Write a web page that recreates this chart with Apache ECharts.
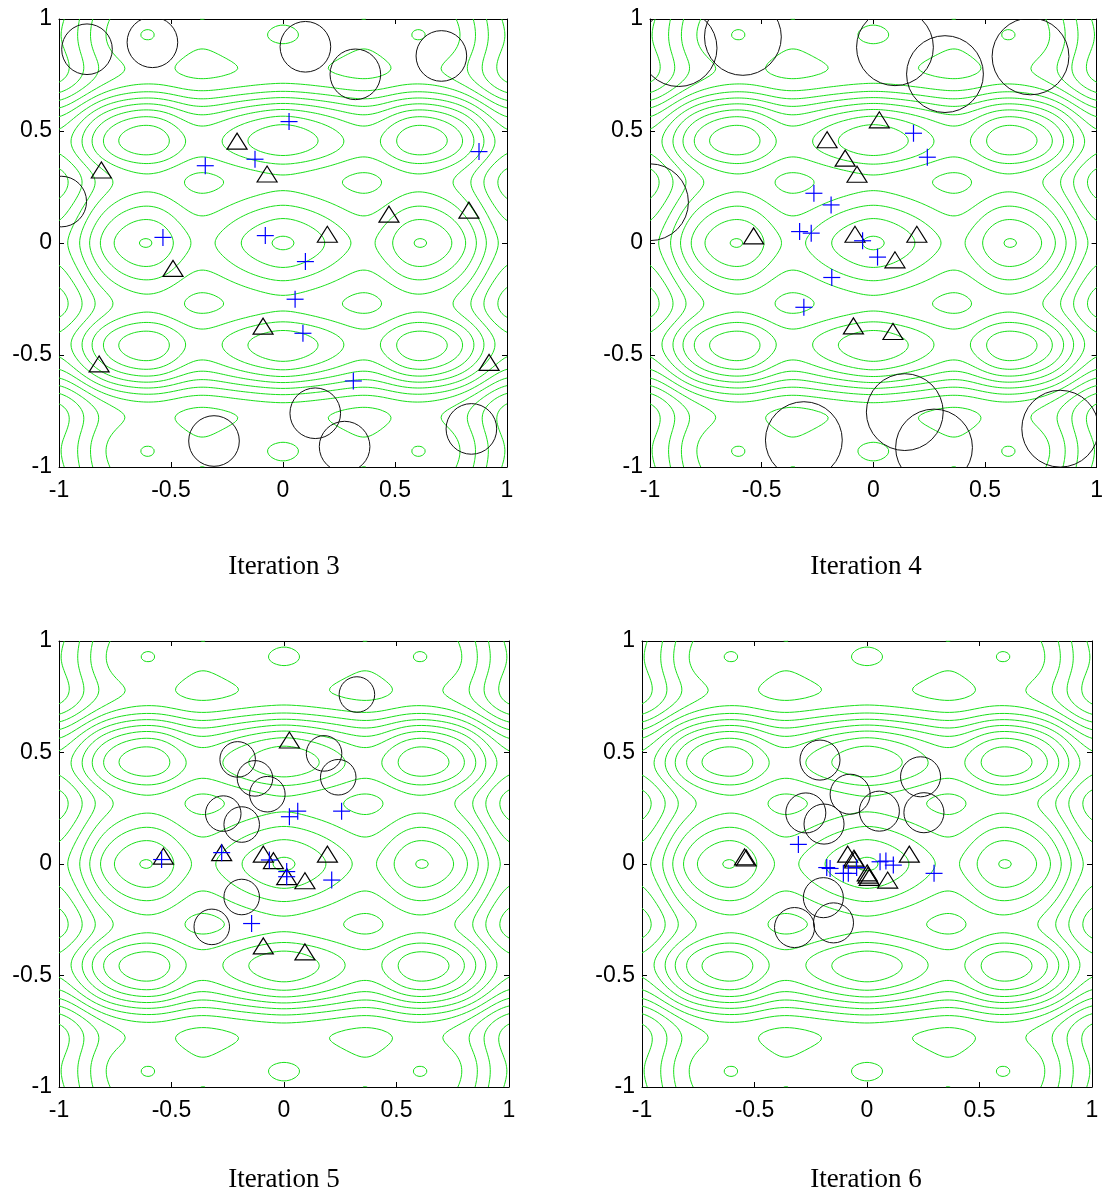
<!DOCTYPE html>
<html><head><meta charset="utf-8">
<script src="https://cdn.jsdelivr.net/npm/echarts@6/dist/echarts.min.js"></script>
<style>html,body{margin:0;padding:0;background:#fff}#c{width:1106px;height:1204px}</style>
</head><body><div id="c"></div>
<script>
// ---------------- data ----------------
const iterationTitles = ['Iteration 3', 'Iteration 4', 'Iteration 5', 'Iteration 6'];
const tickValues = [-1, -0.5, 0, 0.5, 1];

// circles: [x, y, radius]
const it3Circles = [[-0.875,0.865,0.113],[-0.583,0.896,0.113],[0.100,0.876,0.113],[0.323,0.753,0.113],[0.707,0.835,0.113],[-0.99,0.185,0.113],[-0.308,-0.884,0.113],[0.144,-0.760,0.113],[0.275,-0.909,0.113],[0.841,-0.830,0.113]];
const it4Circles = [[-0.872,0.870,0.172],[-0.584,0.920,0.172],[0.097,0.874,0.172],[0.321,0.754,0.172],[0.704,0.833,0.172],[-1.0,0.182,0.172],[-0.311,-0.880,0.172],[0.141,-0.755,0.172],[0.272,-0.913,0.172],[0.837,-0.829,0.172]];
const it5Circles = [[0.324,0.760,0.079],[-0.206,0.469,0.079],[-0.129,0.384,0.079],[-0.074,0.313,0.079],[0.178,0.496,0.079],[0.241,0.389,0.079],[-0.270,0.226,0.079],[-0.188,0.177,0.079],[-0.188,-0.148,0.079],[-0.321,-0.282,0.079]];
const it6Circles = [[-0.209,0.466,0.089],[-0.075,0.313,0.089],[0.238,0.391,0.089],[-0.272,0.229,0.089],[-0.191,0.179,0.089],[0.055,0.237,0.089],[0.253,0.230,0.089],[-0.194,-0.151,0.089],[-0.322,-0.285,0.089],[-0.149,-0.264,0.089]];

// triangles: [x, y]
const it3Triangles = [[-0.205,0.455],[-0.811,0.326],[-0.071,0.308],[0.473,0.129],[0.830,0.147],[0.198,0.039],[-0.491,-0.113],[-0.089,-0.371],[-0.821,-0.540],[0.920,-0.533]];
const it4Triangles = [[0.027,0.550],[-0.207,0.461],[-0.126,0.379],[-0.073,0.307],[-0.536,0.032],[-0.082,0.039],[0.195,0.039],[0.097,-0.075],[-0.089,-0.370],[0.088,-0.395]];
const it5Triangles = [[0.024,0.556],[-0.536,0.035],[-0.277,0.051],[-0.092,0.044],[-0.047,0.015],[0.193,0.044],[0.012,-0.057],[0.093,-0.075],[-0.092,-0.367],[0.093,-0.394]];
const it6Triangles = [[-0.544,0.032],[-0.537,0.027],[-0.086,0.044],[-0.058,0.026],[-0.055,0.018],[0.001,-0.040],[0.005,-0.050],[0.010,-0.060],[0.188,0.044],[0.092,-0.072]];

// plus markers: [x, y]
const it3Plus = [[0.027,0.542],[-0.347,0.345],[-0.125,0.374],[0.875,0.408],[-0.536,0.025],[-0.079,0.033],[0.100,-0.083],[0.054,-0.251],[0.089,-0.403],[0.314,-0.616]];
const it4Plus = [[0.180,0.490],[0.242,0.383],[-0.266,0.222],[-0.189,0.170],[-0.330,0.051],[-0.278,0.044],[-0.048,0.010],[0.019,-0.063],[-0.186,-0.154],[-0.311,-0.287]];
const it5Plus = [[0.061,0.237],[0.024,0.212],[0.256,0.237],[-0.544,0.020],[-0.277,0.051],[-0.065,0.018],[0.012,-0.034],[0.012,-0.057],[0.212,-0.072],[-0.144,-0.267]];
const it6Plus = [[-0.305,0.088],[-0.179,-0.016],[-0.164,-0.020],[-0.105,-0.042],[-0.083,-0.042],[-0.046,-0.016],[0.058,0.010],[0.084,0.013],[0.117,-0.005],[0.298,-0.042]];

// background landscape, estimated from the contour picture
const landscapePeriod = [0.62, 0.47];        // spacing of the oval rows/columns in x and y
const landscapeShift = [0.0533, 0.037];      // pushes the small in-between ovals outwards (to x≈0.36, y≈0.27)
const landscapeMix = [1.0, 1.6, 0.4];        // weight of x wave, y wave, cross term
const landscapeEdgeX = [4.8, 0.90, 0.07];    // fall-off towards |x| = 1: drop, position, width
const landscapeBandY = [6.73, 0.65, 0.06];   // fall-off band near |y| = 0.65: drop, position, width
const landscapeDamp = [0.6, 0.70, 0.06];     // ripple damping above the band
const contourLevels = [-12.75,-11.55,-10.35,-9.15,-7.95,-6.75,-5.55,-4.35,-3.15,-1.95,-0.75,0.45,1.65,2.85];

// ---------------- contour computation (marching squares) ----------------
const sig = (t) => 1 / (1 + Math.exp(-t));
function phase(t, period, shift) {
  const k = 2 * Math.PI / period, a = Math.abs(t);
  return Math.sign(t) * k * (a - shift * (1 - Math.cos(k * a)) / 2);
}
function field(x, y) {
  const u = phase(x, landscapePeriod[0], landscapeShift[0]);
  const v = phase(y, landscapePeriod[1], landscapeShift[1]);
  const ripple = landscapeMix[0] * Math.cos(u) + landscapeMix[1] * Math.cos(v) + landscapeMix[2] * Math.cos(u) * Math.cos(v);
  const damp = 1 - landscapeDamp[0] * sig((Math.abs(y) - landscapeDamp[1]) / landscapeDamp[2]);
  return damp * ripple
    - landscapeEdgeX[0] * sig((Math.abs(x) - landscapeEdgeX[1]) / landscapeEdgeX[2])
    - landscapeBandY[0] * sig((Math.abs(y) - landscapeBandY[1]) / landscapeBandY[2]);
}
const N = 181;
const gx = [], gy = [];
for (let i = 0; i < N; i++) { gx.push(-1 + 2 * i / (N - 1)); gy.push(-1 + 2 * i / (N - 1)); }
const G = gy.map(y => gx.map(x => field(x, y)));

function contour(level) {
  const pts = {}, segs = [], adj = {};
  function ep(id, x0, y0, v0, x1, y1, v1) {
    if (!(id in pts)) { const t = (level - v0) / (v1 - v0); pts[id] = [x0 + t * (x1 - x0), y0 + t * (y1 - y0)]; }
    return id;
  }
  for (let j = 0; j < N - 1; j++) {
    for (let i = 0; i < N - 1; i++) {
      const a = G[j][i], b = G[j][i + 1], c = G[j + 1][i + 1], d = G[j + 1][i];
      const k = (a > level ? 1 : 0) | (b > level ? 2 : 0) | (c > level ? 4 : 0) | (d > level ? 8 : 0);
      if (k === 0 || k === 15) continue;
      const x0 = gx[i], x1 = gx[i + 1], y0 = gy[j], y1 = gy[j + 1];
      const B = () => ep('h' + i + '_' + j, x0, y0, a, x1, y0, b);
      const R = () => ep('v' + (i + 1) + '_' + j, x1, y0, b, x1, y1, c);
      const T = () => ep('h' + i + '_' + (j + 1), x0, y1, d, x1, y1, c);
      const L = () => ep('v' + i + '_' + j, x0, y0, a, x0, y1, d);
      const ctr = (a + b + c + d) / 4 > level;
      let s = [];
      switch (k) {
        case 1: case 14: s = [[L(), B()]]; break;
        case 2: case 13: s = [[B(), R()]]; break;
        case 3: case 12: s = [[L(), R()]]; break;
        case 4: case 11: s = [[R(), T()]]; break;
        case 6: case 9: s = [[B(), T()]]; break;
        case 7: case 8: s = [[L(), T()]]; break;
        case 5: s = ctr ? [[B(), R()], [L(), T()]] : [[L(), B()], [R(), T()]]; break;
        case 10: s = ctr ? [[L(), B()], [R(), T()]] : [[B(), R()], [L(), T()]]; break;
      }
      for (const sg of s) {
        const idx = segs.length; segs.push(sg);
        (adj[sg[0]] = adj[sg[0]] || []).push(idx);
        (adj[sg[1]] = adj[sg[1]] || []).push(idx);
      }
    }
  }
  const used = new Array(segs.length).fill(false), lines = [];
  function walk(start, chain) {
    let cur = start;
    while (true) {
      const nx = (adj[cur] || []).find(q => !used[q]);
      if (nx === undefined) break;
      used[nx] = true;
      const sg = segs[nx]; cur = sg[0] === cur ? sg[1] : sg[0];
      chain.push(cur);
    }
  }
  for (let s = 0; s < segs.length; s++) {
    if (used[s]) continue;
    used[s] = true;
    const fwd = [segs[s][1]]; walk(segs[s][1], fwd);
    const back = [segs[s][0]]; walk(segs[s][0], back);
    const ids = back.reverse().concat(fwd);
    lines.push({ coords: ids.map(id => pts[id]) });
  }
  return lines;
}
let contourData = [];
for (const lv of contourLevels) contourData = contourData.concat(contour(lv));

// ---------------- chart ----------------
const grids = [
  { left: 59, top: 19, width: 448, height: 448 },
  { left: 650, top: 19, width: 448, height: 448 },
  { left: 59, top: 641, width: 450, height: 446 },
  { left: 642, top: 641, width: 450, height: 446 }
];
const circlesAll = [it3Circles, it4Circles, it5Circles, it6Circles];
const trianglesAll = [it3Triangles, it4Triangles, it5Triangles, it6Triangles];
const plusAll = [it3Plus, it4Plus, it5Plus, it6Plus];
const titlePos = [[284, 567], [866, 567], [284, 1180], [866, 1180]];

const labelFont = { fontSize: 23, color: '#000', fontFamily: 'Liberation Sans, Arial, sans-serif' };
function axisBase(pos, gi, showLabel, isX) {
  return {
    type: 'value', gridIndex: gi, position: pos, min: tickValues[0], max: tickValues[tickValues.length - 1], interval: 0.5,
    axisLine: { show: true, onZero: false, lineStyle: { color: '#000', width: 1 } },
    axisTick: { show: true, inside: true, length: 5, lineStyle: { color: '#000', width: 1 } },
    axisLabel: Object.assign({ show: showLabel, margin: isX ? 12 : 7, formatter: v => String(v) }, labelFont),
    splitLine: { show: false }
  };
}
const xAxis = [], yAxis = [], series = [];
grids.forEach((g, gi) => {
  xAxis.push(axisBase('bottom', gi, true, true), axisBase('top', gi, false, true));
  yAxis.push(axisBase('left', gi, true, false), axisBase('right', gi, false, false));
  const ax = { xAxisIndex: 2 * gi, yAxisIndex: 2 * gi };
  series.push(Object.assign({
    type: 'lines', coordinateSystem: 'cartesian2d', polyline: true, silent: true,
    lineStyle: { color: '#19e019', width: 1, opacity: 1 }, data: contourData, z: 1
  }, ax));
  series.push(Object.assign({
    type: 'custom', clip: true, silent: true, z: 3, data: circlesAll[gi],
    renderItem: (p, api) => {
      const c = api.coord([api.value(0), api.value(1)]);
      const r = api.size([api.value(2), 0])[0];
      return { type: 'circle', shape: { cx: c[0], cy: c[1], r: r }, style: { fill: 'none', stroke: '#111', lineWidth: 1 } };
    }
  }, ax));
  series.push(Object.assign({
    type: 'custom', clip: true, silent: true, z: 4, data: trianglesAll[gi],
    renderItem: (p, api) => {
      const c = api.coord([api.value(0), api.value(1)]);
      return { type: 'polygon', shape: { points: [[c[0], c[1] - 8], [c[0] - 10, c[1] + 8], [c[0] + 10, c[1] + 8]] },
        style: { fill: 'none', stroke: '#000', lineWidth: 1.2 } };
    }
  }, ax));
  series.push(Object.assign({
    type: 'custom', clip: true, silent: true, z: 5, data: plusAll[gi],
    renderItem: (p, api) => {
      const c = api.coord([api.value(0), api.value(1)]);
      return { type: 'group', children: [
        { type: 'line', shape: { x1: c[0] - 8.5, y1: c[1], x2: c[0] + 8.5, y2: c[1] }, style: { stroke: '#0000ff', lineWidth: 1.2 } },
        { type: 'line', shape: { x1: c[0], y1: c[1] - 8.5, x2: c[0], y2: c[1] + 8.5 }, style: { stroke: '#0000ff', lineWidth: 1.2 } }
      ] };
    }
  }, ax));
});
const graphic = iterationTitles.map((t, i) => ({
  type: 'text', x: titlePos[i][0], y: titlePos[i][1], silent: true,
  style: { text: t, font: '27px "Liberation Serif", "Times New Roman", serif', fill: '#000',
    textAlign: 'center', textVerticalAlign: 'middle', align: 'center', verticalAlign: 'middle' }
}));
const chart = echarts.init(document.getElementById('c'), null, { renderer: 'canvas' });
chart.setOption({ animation: false, backgroundColor: '#fff', grid: grids, xAxis, yAxis, series, graphic });
</script></body></html>
